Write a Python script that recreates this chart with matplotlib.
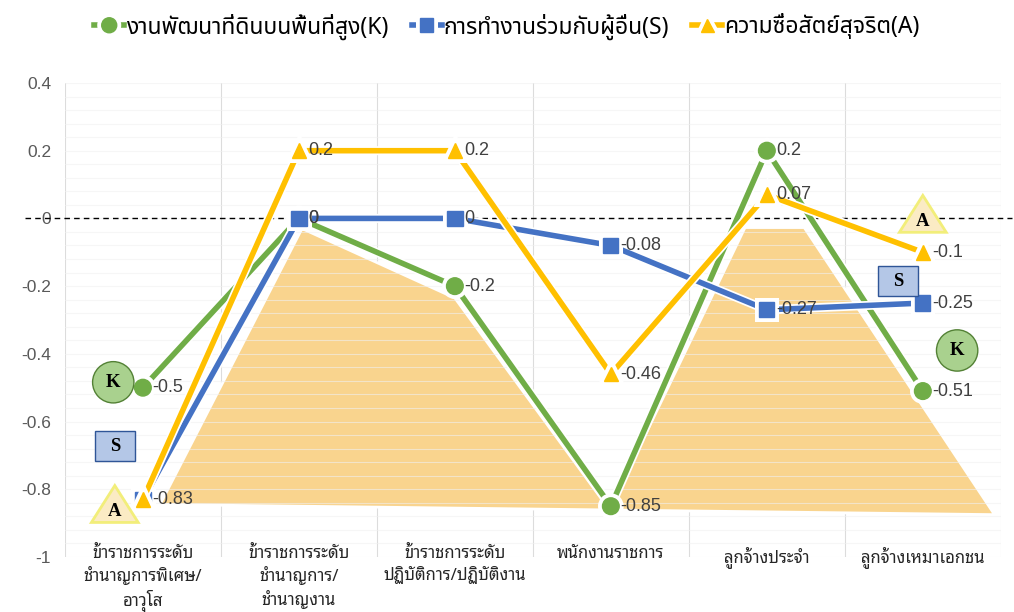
import matplotlib
matplotlib.use("Agg")
import matplotlib.pyplot as plt
import matplotlib.patheffects as pe
from matplotlib.patches import Polygon, Ellipse, Rectangle
import numpy as np

# ---------------------------- data ----------------------------
categories = [
    "ข้าราชการระดับ\nชำนาญการพิเศษ/\nอาวุโส",
    "ข้าราชการระดับ\nชำนาญการ/\nชำนาญงาน",
    "ข้าราชการระดับ\nปฏิบัติการ/ปฏิบัติงาน",
    "พนักงานราชการ",
    "ลูกจ้างประจำ",
    "ลูกจ้างเหมาเอกชน",
]
k_values = [-0.5, 0, -0.2, -0.85, 0.2, -0.51]
s_values = [-0.83, 0, 0, -0.08, -0.27, -0.25]
a_values = [-0.83, 0.2, 0.2, -0.46, 0.07, -0.1]

k_name = "งานพัฒนาที่ดินบนพื้นที่สูง(K)"
s_name = "การทำงานร่วมกับผู้อื่น(S)"
a_name = "ความซื่อสัตย์สุจริต(A)"

y_ticks = [0.4, 0.2, 0, -0.2, -0.4, -0.6, -0.8, -1]
y_tick_labels = ["0.4", "0.2", "0", "-0.2", "-0.4", "-0.6", "-0.8", "-1"]

# background area shape (category index, value)
area_x = [0.11, 1.02, 2.0, 2.99, 3.86, 4.24, 5.46]
area_y = [-0.845, -0.03, -0.235, -0.86, -0.027, -0.027, -0.875]

THAI = ["Noto Sans Thai", "DejaVu Sans"]
THAI_LOOPED = ["Noto Sans Thai Looped", "DejaVu Sans"]
NUM = ["Liberation Sans", "DejaVu Sans"]

green = "#70AD47"
blue = "#4472C4"
gold = "#FFC000"

fig = plt.figure(figsize=(10.14, 6.12), dpi=100)
ax = fig.add_axes([0.064, 0.0899, 0.923, 0.7745])
x = np.arange(len(categories))

ax.set_xlim(-0.5, 5.5)
ax.set_ylim(-1, 0.4)
for sp in ax.spines.values():
    sp.set_visible(False)

# faint horizontal grid + category separators
for gy in np.arange(-1, 0.401, 0.04):
    ax.axhline(gy, color="#F0F0F0", lw=0.8, alpha=0.6, zorder=1.5)
for gx in np.arange(-0.5, 5.6, 1):
    ax.axvline(gx, color="#DCDCDC", lw=0.8, zorder=0.5)

# orange area in the back
ax.add_patch(Polygon(list(zip(area_x, area_y)), closed=True, fc="#F9D48E",
                     ec="white", lw=2, zorder=1))

# zero reference line
ax.plot([-0.043, 1.012], [0, 0], transform=ax.get_yaxis_transform(),
        color="black", lw=1, ls=(0, (4, 3)), clip_on=False, zorder=2)

glow = [pe.Stroke(linewidth=6.5, foreground="white"), pe.Normal()]
ax.plot(x, k_values, color=green, lw=4, marker="o", ms=12, label=k_name,
        zorder=3, path_effects=glow)
ax.plot(x, s_values, color=blue, lw=4, marker="s", ms=11, label=s_name,
        zorder=4, path_effects=glow)
ax.plot(x, a_values, color=gold, lw=4, marker="^", ms=10.5, label=a_name,
        zorder=5, path_effects=glow)

# value labels next to the points
done = set()
for vals in (k_values, s_values, a_values):
    for i, v in enumerate(vals):
        if (i, v) in done and v != 0:
            continue
        done.add((i, v))
        ax.annotate(f"{v:g}", (i, v), xytext=(7, 0), textcoords="offset points",
                    va="center", ha="left", fontsize=13, color="#404040",
                    family=NUM, zorder=6)

# K / S / A badges
serif = dict(family=["Liberation Serif", "DejaVu Serif"], weight="bold",
             fontsize=13.5, color="black", ha="center", va="center", zorder=8)
for cx, cy in [(-0.19, -0.484), (5.22, -0.39)]:
    ax.add_patch(Ellipse((cx, cy), 0.265, 0.122, fc="#A9D18E", ec="#538135",
                         lw=1, zorder=7))
    ax.text(cx, cy, "K", **serif)
for cx, cy in [(-0.18, -0.673), (4.84, -0.186)]:
    ax.add_patch(Rectangle((cx - 0.128, cy - 0.044), 0.256, 0.088,
                           fc="#B4C7E7", ec="#2F5597", lw=1, zorder=7))
    ax.text(cx, cy, "S", **serif)
for cx, top, base in [(-0.18, -0.789, -0.898), (5.0, 0.068, -0.041)]:
    ax.add_patch(Polygon([(cx - 0.15, base), (cx, top), (cx + 0.15, base)],
                         closed=True, fc="#FBEBC4", ec="#F2EE7A", lw=2,
                         zorder=7))
    ax.text(cx, base + 0.033, "A", **serif)

ax.set_yticks(y_ticks)
ax.set_yticklabels(y_tick_labels, family=NUM, fontsize=12.5, color="#595959")
ax.set_xticks(x)
ax.set_xticklabels(categories, family=THAI_LOOPED, fontsize=12,
                   color="#262626", linespacing=1.3)
ax.tick_params(axis="both", length=0)
ax.tick_params(axis="y", pad=10)
ax.tick_params(axis="x", pad=-8)

fig.legend(loc="upper center", bbox_to_anchor=(0.5, 1.012), ncol=3,
           frameon=False, prop={"family": THAI, "size": 16.5},
           handlelength=1.3, handletextpad=0.1, columnspacing=1.0,
           markerscale=0.9)

fig.savefig("out.png", dpi=100)
